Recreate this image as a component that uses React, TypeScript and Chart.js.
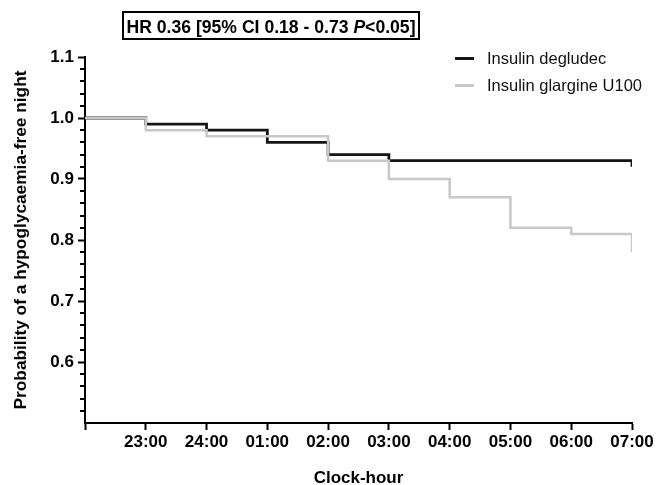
import React, { useEffect, useRef } from "react";
import { Chart, registerables } from "chart.js";

Chart.register(...registerables);

// ---- data ----
const hours = [0, 1, 2, 3, 4, 5, 6, 7, 8, 9];
const hourLabels = ["", "23:00", "24:00", "01:00", "02:00", "03:00", "04:00", "05:00", "06:00", "07:00"];
const degludecValues = [1.0, 0.99, 0.98, 0.96, 0.94, 0.93, 0.93, 0.93, 0.93, 0.92];
const glargineValues = [1.0, 0.98, 0.97, 0.97, 0.93, 0.9, 0.87, 0.82, 0.81, 0.78];
const seriesNames = ["Insulin degludec", "Insulin glargine U100"];
const seriesColors = ["#151515", "#c8c8c8"];
const yMajorTicks = [0.6, 0.7, 0.8, 0.9, 1.0, 1.1];
const yMinorStep = 0.02;
const titleParts = ["HR 0.36 [95% CI 0.18 - 0.73 ", "P", "<0.05]"];
const xTitle = "Clock-hour";
const yTitle = "Probability of a hypoglycaemia-free night";

const FONT = "'Liberation Sans', Arial, Helvetica, sans-serif";

const minorTicksPlugin = {
  id: "minorTicks",
  afterDraw(chart: any) {
    const ys = chart.scales.y;
    const ctx = chart.ctx;
    const left = chart.chartArea.left;
    ctx.save();
    ctx.strokeStyle = "#000";
    ctx.lineWidth = 2;
    const n = Math.round((ys.max - ys.min) / yMinorStep);
    ctx.beginPath();
    for (let i = 1; i < n; i++) {
      const v = ys.min + i * yMinorStep;
      if (yMajorTicks.some((t) => Math.abs(t - v) < 1e-6)) continue;
      const py = Math.round(ys.getPixelForValue(v));
      ctx.moveTo(left, py);
      ctx.lineTo(left - 5, py);
    }
    ctx.stroke();
    ctx.restore();
  },
};

const titleBoxPlugin = {
  id: "titleBox",
  afterDraw(chart: any) {
    const ctx = chart.ctx;
    ctx.save();
    const bx = 123, by = 12, bw = 296, bh = 27;
    ctx.strokeStyle = "#000";
    ctx.lineWidth = 2;
    ctx.strokeRect(bx, by, bw, bh);
    const normal = `bold 17.6px ${FONT}`;
    const ital = `italic bold 17.6px ${FONT}`;
    ctx.font = normal;
    const w0 = ctx.measureText(titleParts[0]).width;
    const w2 = ctx.measureText(titleParts[2]).width;
    ctx.font = ital;
    const w1 = ctx.measureText(titleParts[1]).width;
    let x = bx + (bw - (w0 + w1 + w2)) / 2;
    const y = by + 21;
    ctx.fillStyle = "#000";
    ctx.textBaseline = "alphabetic";
    ctx.textAlign = "left";
    ctx.font = normal;
    ctx.fillText(titleParts[0], x, y);
    x += w0;
    ctx.font = ital;
    ctx.fillText(titleParts[1], x, y);
    x += w1;
    ctx.font = normal;
    ctx.fillText(titleParts[2], x, y);
    ctx.restore();
  },
};

const legendPlugin = {
  id: "customLegend",
  afterDraw(chart: any) {
    const ctx = chart.ctx;
    ctx.save();
    ctx.font = `16.5px ${FONT}`;
    ctx.textBaseline = "middle";
    ctx.textAlign = "left";
    seriesNames.forEach((name, i) => {
      const ds = chart.data.datasets.find((d: any) => d.label === name);
      const y = 58.5 + i * 27;
      ctx.strokeStyle = ds.borderColor;
      ctx.lineWidth = 3;
      ctx.beginPath();
      ctx.moveTo(455, y);
      ctx.lineTo(474, y);
      ctx.stroke();
      ctx.fillStyle = "#111";
      ctx.fillText(name, 487, y + 0.5);
    });
    ctx.restore();
  },
};

export default function App() {
  const canvasRef = useRef<HTMLCanvasElement | null>(null);

  useEffect(() => {
    document.body.style.margin = "0";
    const canvas = canvasRef.current;
    if (!canvas) return;
    Chart.defaults.font.family = FONT;
    Chart.defaults.color = "#000";

    const chart = new Chart(canvas, {
      type: "line",
      data: {
        datasets: [
          {
            label: seriesNames[0],
            data: hours.map((h, i) => ({ x: h, y: degludecValues[i] })),
            borderColor: seriesColors[0],
            borderWidth: 2.8,
            stepped: "before",
            pointRadius: 0,
            fill: false,
            order: 1,
            borderJoinStyle: "miter",
            borderCapStyle: "butt",
          },
          {
            label: seriesNames[1],
            data: hours.map((h, i) => ({ x: h, y: glargineValues[i] })),
            borderColor: seriesColors[1],
            borderWidth: 2.5,
            stepped: "before",
            pointRadius: 0,
            fill: false,
            order: 0,
            borderJoinStyle: "miter",
            borderCapStyle: "butt",
          },
        ],
      },
      options: {
        responsive: false,
        animation: false,
        events: [],
        layout: { padding: { left: 0, top: 57, right: 24, bottom: 0 } },
        plugins: {
          legend: { display: false },
          tooltip: { enabled: false },
          title: { display: false },
        },
        scales: {
          x: {
            type: "linear",
            min: 0,
            max: 9,
            afterFit: (s: any) => {
              s.height = 62;
            },
            border: { display: true, color: "#000", width: 2 },
            grid: {
              drawOnChartArea: false,
              drawTicks: true,
              tickLength: 7,
              tickColor: "#000",
              tickWidth: 2,
            },
            ticks: {
              stepSize: 1,
              autoSkip: false,
              maxRotation: 0,
              padding: 2,
              color: "#000",
              font: { size: 17, weight: "bold" },
              callback: (v: any) => hourLabels[Math.round(Number(v))] ?? "",
            },
            title: {
              display: true,
              text: xTitle,
              color: "#000",
              font: { size: 17, weight: "bold", lineHeight: 0.82 },
              padding: { top: 0, bottom: 0 },
            },
          },
          y: {
            type: "linear",
            min: 0.5,
            max: 1.1,
            afterFit: (s: any) => {
              s.width = 85;
            },
            border: { display: true, color: "#000", width: 2 },
            grid: {
              drawOnChartArea: false,
              drawTicks: true,
              tickLength: 7,
              tickWidth: 2,
              tickColor: (c: any) => (c.tick && c.tick.value < 0.55 ? "rgba(0,0,0,0)" : "#000"),
            },
            ticks: {
              stepSize: 0.1,
              padding: 4,
              color: "#000",
              font: { size: 17, weight: "bold" },
              callback: (v: any) => {
                const n = Number(v);
                return yMajorTicks.some((t) => Math.abs(t - n) < 1e-6) ? n.toFixed(1) : "";
              },
            },
            title: {
              display: true,
              text: yTitle,
              color: "#000",
              font: { size: 17.3, weight: "bold", lineHeight: 1.2 },
              padding: { top: 11, bottom: 0 },
            },
          },
        },
      },
      plugins: [minorTicksPlugin, titleBoxPlugin, legendPlugin],
    } as any);

    return () => chart.destroy();
  }, []);

  return (
    <div style={{ width: 656, height: 485, position: "relative", background: "#fff" }}>
      <canvas ref={canvasRef} width={656} height={485} />
    </div>
  );
}
